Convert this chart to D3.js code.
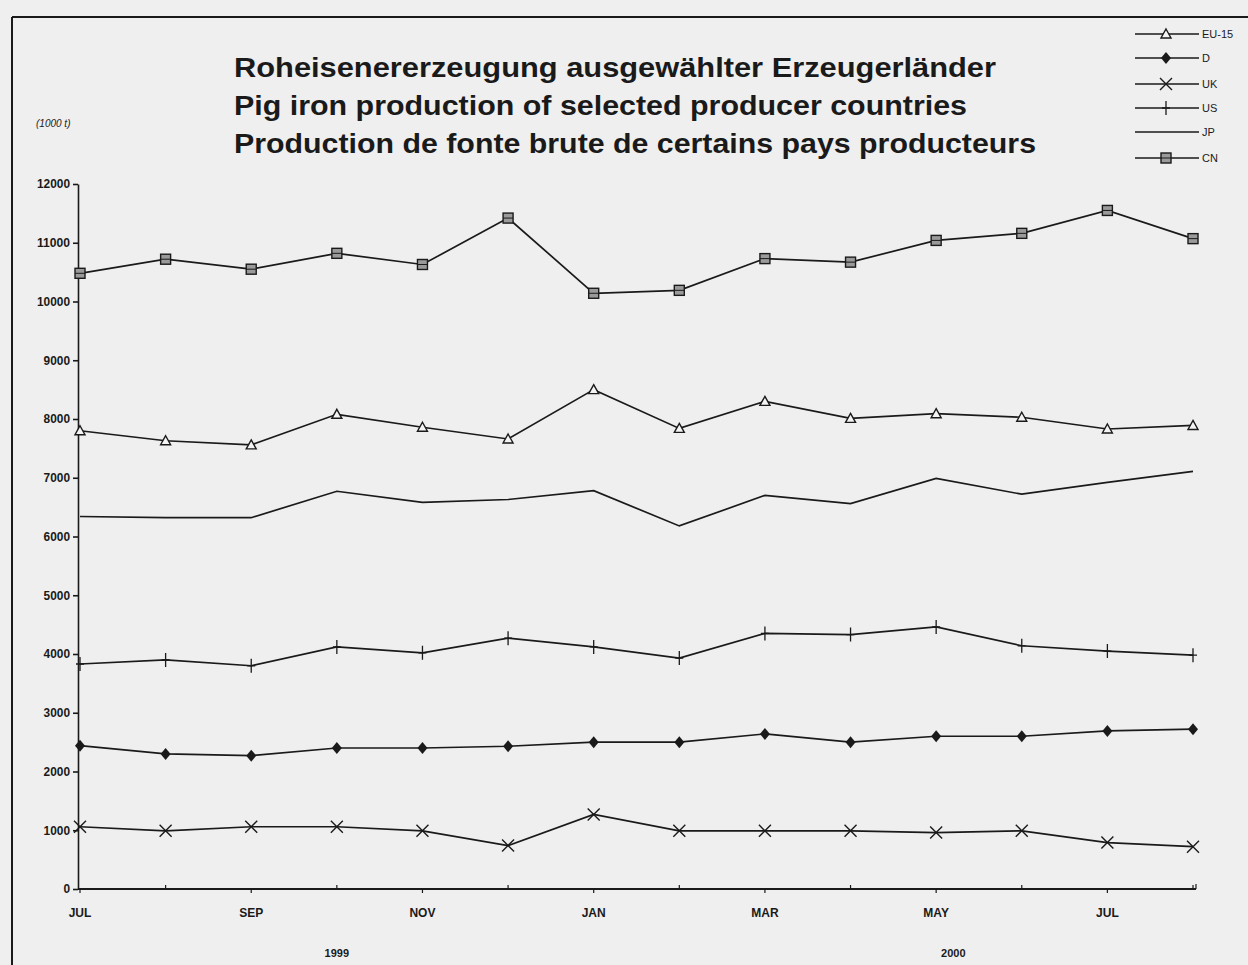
<!DOCTYPE html>
<html>
<head>
<meta charset="utf-8">
<script src="https://cdn.jsdelivr.net/npm/d3@7"></script>
<style>
  body { margin: 0; background: #efefef; }
  svg { display: block; font-family: "Liberation Sans", Arial, sans-serif; }
</style>
</head>
<body>
<svg width="1248" height="965"></svg>
<script>
// months Jul 1999 .. Aug 2000
var months = ['JUL', 'AUG', 'SEP', 'OCT', 'NOV', 'DEC', 'JAN', 'FEB', 'MAR', 'APR', 'MAY', 'JUN', 'JUL', 'AUG'];
var years = [{ label: '1999', at: 3 }, { label: '2000', at: 10.2 }];
var yTicks = [0, 1000, 2000, 3000, 4000, 5000, 6000, 7000, 8000, 9000, 10000, 11000, 12000];

// pig iron production, 1000 t
var eu15 = [7800, 7630, 7560, 8080, 7860, 7660, 8500, 7840, 8300, 8010, 8090, 8030, 7830, 7890];
var de   = [2440, 2300, 2270, 2400, 2400, 2430, 2500, 2500, 2640, 2500, 2600, 2600, 2690, 2720];
var uk   = [1060, 990, 1060, 1060, 990, 740, 1270, 990, 990, 990, 960, 990, 790, 720];
var us   = [3830, 3900, 3800, 4120, 4020, 4270, 4120, 3930, 4350, 4330, 4460, 4140, 4050, 3980];
var jp   = [6340, 6320, 6320, 6770, 6580, 6630, 6780, 6180, 6700, 6560, 6990, 6720, 6920, 7110];
var cn   = [10480, 10720, 10550, 10820, 10630, 11420, 10140, 10190, 10730, 10670, 11040, 11160, 11550, 11070];

var seriesNames = ['EU-15', 'D', 'UK', 'US', 'JP', 'CN'];
var seriesData = [eu15, de, uk, us, jp, cn];
var seriesMarks = ['triangle', 'diamond', 'cross', 'plus', 'none', 'square'];

var svg = d3.select('svg');
var ink = '#1a1a1a';

// frame of the scanned page
svg.append('line').attr('x1', 12).attr('y1', 17).attr('x2', 1248).attr('y2', 17)
  .attr('stroke', ink).attr('stroke-width', 2);
svg.append('line').attr('x1', 12).attr('y1', 17).attr('x2', 12).attr('y2', 965)
  .attr('stroke', ink).attr('stroke-width', 2);

var x = d3.scaleLinear().domain([0, months.length - 1]).range([80, 1193]);
var y = d3.scaleLinear().domain([0, 12000]).range([889, 184]);

// titles
var titles = [
  { text: 'Roheisenererzeugung ausgewählter Erzeugerländer', w: 762 },
  { text: 'Pig iron production of selected producer countries', w: 733 },
  { text: 'Production de fonte brute de certains pays producteurs', w: 802 }
];
svg.selectAll('.title').data(titles).enter().append('text')
  .attr('class', 'title')
  .attr('x', 234)
  .attr('y', function(d, i) { return 77 + i * 38; })
  .attr('textLength', function(d) { return d.w; })
  .attr('lengthAdjust', 'spacingAndGlyphs')
  .style('font-size', '27px')
  .style('font-weight', 'bold')
  .style('fill', ink)
  .text(function(d) { return d.text; });

// unit label
svg.append('text').attr('x', 36).attr('y', 127)
  .style('font-size', '10px').style('font-style', 'italic').style('fill', ink)
  .text('(1000 t)');

// y axis
var yAxis = svg.append('g').attr('transform', 'translate(78,0)')
  .call(d3.axisLeft(y).tickValues(yTicks).tickSize(5).tickSizeOuter(0).tickPadding(3)
    .tickFormat(d3.format('d')));
yAxis.selectAll('text').style('font-size', '12px').style('font-weight', 'bold')
  .style('font-family', '"Liberation Sans", Arial, sans-serif').style('fill', ink)
  .attr('textLength', function(d) { return String(d).length * 6.6; })
  .attr('lengthAdjust', 'spacingAndGlyphs');
yAxis.selectAll('line, path').attr('stroke', ink).attr('stroke-width', 1.6);

// x axis line
svg.append('line').attr('x1', 78).attr('x2', 1196).attr('y1', 889).attr('y2', 889)
  .attr('stroke', ink).attr('stroke-width', 1.8);

// ticks: labelled months point down, the others point up
var monthIdx = d3.range(months.length);
svg.selectAll('.xtick').data(monthIdx).enter().append('line')
  .attr('class', 'xtick')
  .attr('x1', function(i) { return x(i); })
  .attr('x2', function(i) { return x(i); })
  .attr('y1', 889)
  .attr('y2', function(i) { return i % 2 === 0 ? 893 : 885; })
  .attr('stroke', ink).attr('stroke-width', 1.2);
svg.append('line').attr('x1', 1196).attr('x2', 1196).attr('y1', 889).attr('y2', 884)
  .attr('stroke', ink).attr('stroke-width', 1.2);

svg.selectAll('.xlab').data(monthIdx.filter(function(i) { return i % 2 === 0; }))
  .enter().append('text')
  .attr('class', 'xlab')
  .attr('x', function(i) { return x(i); })
  .attr('y', 917)
  .attr('text-anchor', 'middle')
  .style('font-size', '12px').style('font-weight', 'bold').style('fill', ink)
  .text(function(i) { return months[i]; });

svg.selectAll('.yearlab').data(years).enter().append('text')
  .attr('class', 'yearlab')
  .attr('x', function(d) { return x(d.at); })
  .attr('y', 957)
  .attr('text-anchor', 'middle')
  .style('font-size', '11px').style('font-weight', 'bold').style('fill', ink)
  .text(function(d) { return d.label; });

// marker drawing
function drawMarker(g, type, cx, cy) {
  if (type === 'triangle') {
    g.append('path').attr('d', 'M0,-5L5,4L-5,4Z')
      .attr('transform', 'translate(' + cx + ',' + cy + ')')
      .attr('fill', '#f4f4f4').attr('stroke', ink).attr('stroke-width', 1.4);
  } else if (type === 'diamond') {
    g.append('path').attr('d', 'M0,-6L5,0L0,6L-5,0Z')
      .attr('transform', 'translate(' + cx + ',' + cy + ')')
      .attr('fill', ink);
  } else if (type === 'cross') {
    g.append('path').attr('d', 'M-6,-6L6,6M-6,6L6,-6')
      .attr('transform', 'translate(' + cx + ',' + cy + ')')
      .attr('stroke', ink).attr('stroke-width', 1.4).attr('fill', 'none');
  } else if (type === 'plus') {
    g.append('path').attr('d', 'M0,-7L0,7M-4,0L4,0')
      .attr('transform', 'translate(' + cx + ',' + cy + ')')
      .attr('stroke', ink).attr('stroke-width', 1.3).attr('fill', 'none');
  } else if (type === 'square') {
    g.append('rect').attr('x', cx - 5).attr('y', cy - 5).attr('width', 10).attr('height', 10)
      .attr('fill', '#9a9a9a').attr('stroke', ink).attr('stroke-width', 1.4);
    g.append('line').attr('x1', cx - 5).attr('x2', cx + 5).attr('y1', cy).attr('y2', cy)
      .attr('stroke', ink).attr('stroke-width', 1);
  }
}

// series lines and markers
var line = d3.line()
  .x(function(d, i) { return x(i); })
  .y(function(d) { return y(d); });

seriesData.forEach(function(values, s) {
  var g = svg.append('g');
  g.append('path').datum(values)
    .attr('d', line)
    .attr('fill', 'none')
    .attr('stroke', ink)
    .attr('stroke-width', 1.7);
  values.forEach(function(v, i) {
    drawMarker(g, seriesMarks[s], x(i), y(v));
  });
});

// legend
var legendY = [34, 58, 84, 108, 132, 158];
seriesNames.forEach(function(name, s) {
  var g = svg.append('g');
  var ly = legendY[s];
  g.append('line').attr('x1', 1135).attr('x2', 1199).attr('y1', ly).attr('y2', ly)
    .attr('stroke', ink).attr('stroke-width', 1.4);
  drawMarker(g, seriesMarks[s], 1166, ly);
  g.append('text').attr('x', 1202).attr('y', ly + 4)
    .style('font-size', '11px').style('fill', ink)
    .text(name);
});
</script>
</body>
</html>
